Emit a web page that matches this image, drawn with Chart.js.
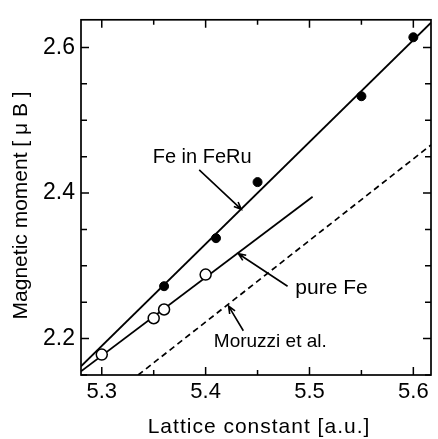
<!DOCTYPE html>
<html><head><meta charset="utf-8">
<script src="https://cdn.jsdelivr.net/npm/chart.js@4/dist/chart.umd.min.js"></script>
<style>html,body{margin:0;padding:0;background:#fff;overflow:hidden}canvas{display:block}</style>
</head><body>
<canvas id="c" width="438" height="439"></canvas>
<script>
// ---- data ----
const feRuX = [5.36, 5.41, 5.45, 5.55, 5.60];
const feRuY = [2.272, 2.338, 2.415, 2.533, 2.614];
const pureFeX = [5.30, 5.35, 5.36, 5.40];
const pureFeY = [2.178, 2.228, 2.240, 2.288];
const feRuFitX = [5.28, 5.617];
const feRuFitY = [2.162, 2.634];
const pureFeFitX = [5.28, 5.503];
const pureFeFitY = [2.155, 2.395];
const moruzziX = [5.335, 5.617];
const moruzziY = [2.15, 2.466];
const xTickLabels = ['5.3', '5.4', '5.5', '5.6'];
const yTickLabels = ['2.2', '2.4', '2.6'];
const xTitle = 'Lattice constant [a.u.]';
const yTitle = 'Magnetic moment [ \u03bc B ]';
const labelTexts = ['Fe in FeRu', 'pure Fe', 'Moruzzi et al.'];

const pts = (xs, ys) => xs.map((x, i) => ({x, y: ys[i]}));
const isLabel = (list, v) => list.some(l => Math.abs(parseFloat(l) - v) < 1e-6);

// annotation anchors (data coordinates)
const notes = [
  {text: labelTexts[0], x: 5.349, y: 2.441, size: 20, tail: [5.3938, 2.4319], head: [5.4344, 2.3776]},
  {text: labelTexts[1], x: 5.4864, y: 2.261, size: 21, tail: [5.4789, 2.2719], head: [5.4315, 2.3166]},
  {text: labelTexts[2], x: 5.4079, y: 2.1878, size: 19, tail: [5.4363, 2.2108], head: [5.4221, 2.2447]}
];

const FONT = '"Liberation Sans", Arial, Helvetica, sans-serif';

const framePlugin = {
  id: 'frame',
  afterDraw(chart) {
    const {ctx, chartArea: {left, right, top, bottom}, scales: {x, y}} = chart;
    ctx.save();
    ctx.strokeStyle = '#000';
    ctx.lineWidth = 1.7;
    ctx.strokeRect(left, top, right - left, bottom - top);
    ctx.lineWidth = 1.5;
    ctx.beginPath();
    x.ticks.forEach(t => {
      const px = x.getPixelForValue(t.value);
      const len = isLabel(xTickLabels, t.value) ? 8 : 5;
      ctx.moveTo(px, bottom); ctx.lineTo(px, bottom - len);
      ctx.moveTo(px, top); ctx.lineTo(px, top + len);
    });
    y.ticks.forEach(t => {
      const py = y.getPixelForValue(t.value);
      const len = isLabel(yTickLabels, t.value) ? 8 : 6;
      ctx.moveTo(left, py); ctx.lineTo(left + len, py);
      ctx.moveTo(right, py); ctx.lineTo(right - len, py);
    });
    ctx.stroke();

    // annotations
    ctx.fillStyle = '#000';
    ctx.textAlign = 'left';
    ctx.textBaseline = 'alphabetic';
    notes.forEach(n => {
      ctx.font = n.size + 'px ' + FONT;
      ctx.fillText(n.text, x.getPixelForValue(n.x), y.getPixelForValue(n.y));
      const x0 = x.getPixelForValue(n.tail[0]), y0 = y.getPixelForValue(n.tail[1]);
      const x1 = x.getPixelForValue(n.head[0]), y1 = y.getPixelForValue(n.head[1]);
      ctx.lineWidth = 1.6;
      ctx.beginPath();
      ctx.moveTo(x0, y0); ctx.lineTo(x1, y1);
      const a = Math.atan2(y1 - y0, x1 - x0), L = 8, w = 0.4;
      ctx.moveTo(x1 - L * Math.cos(a - w), y1 - L * Math.sin(a - w));
      ctx.lineTo(x1, y1);
      ctx.lineTo(x1 - L * Math.cos(a + w), y1 - L * Math.sin(a + w));
      ctx.stroke();
    });

    // axis titles
    ctx.font = '21px ' + FONT;
    ctx.textAlign = 'center';
    ctx.letterSpacing = '1px';
    ctx.fillText(xTitle, (left + right) / 2 + 3, 433);
    ctx.letterSpacing = '0px';
    ctx.save();
    ctx.translate(27, (top + bottom) / 2 + 8);
    ctx.rotate(-Math.PI / 2);
    ctx.fillText(yTitle, 0, 0);
    ctx.restore();
    ctx.restore();
  }
};

new Chart(document.getElementById('c'), {
  type: 'scatter',
  data: {
    datasets: [
      {label: 'Fe in FeRu', data: pts(feRuX, feRuY), pointRadius: 4.5, pointBackgroundColor: '#000', pointBorderColor: '#000', showLine: false},
      {label: 'pure Fe', data: pts(pureFeX, pureFeY), pointRadius: 5.5, pointBackgroundColor: '#fff', pointBorderColor: '#000', pointBorderWidth: 1.5, showLine: false},
      {label: 'Fe in FeRu fit', data: pts(feRuFitX, feRuFitY), showLine: true, pointRadius: 0, borderColor: '#000', borderWidth: 1.8},
      {label: 'pure Fe fit', data: pts(pureFeFitX, pureFeFitY), showLine: true, pointRadius: 0, borderColor: '#000', borderWidth: 1.8},
      {label: 'Moruzzi et al.', data: pts(moruzziX, moruzziY), showLine: true, pointRadius: 0, borderColor: '#000', borderWidth: 1.7, borderDash: [6, 4]}
    ]
  },
  options: {
    responsive: false,
    animation: false,
    events: [],
    layout: {padding: {top: 15, right: 0, left: 0, bottom: 0}},
    plugins: {legend: {display: false}, tooltip: {enabled: false}},
    scales: {
      x: {
        type: 'linear', min: 5.28, max: 5.617,
        afterFit(s) { s.height = 64; },
        grid: {display: false, drawTicks: false}, border: {display: false},
        ticks: {
          stepSize: 0.05, includeBounds: false, autoSkip: false, maxRotation: 0, padding: 4,
          color: '#000', font: {family: FONT, size: 22},
          callback: v => isLabel(xTickLabels, v) ? xTickLabels.find(l => Math.abs(parseFloat(l) - v) < 1e-6) : ''
        }
      },
      y: {
        type: 'linear', min: 2.15, max: 2.638,
        afterFit(s) { s.width = 81; },
        grid: {display: false, drawTicks: false}, border: {display: false},
        ticks: {
          stepSize: 0.05, includeBounds: false, autoSkip: false, padding: 6,
          color: '#000', font: {family: FONT, size: 23},
          callback: v => isLabel(yTickLabels, v) ? yTickLabels.find(l => Math.abs(parseFloat(l) - v) < 1e-6) : ''
        }
      }
    }
  },
  plugins: [framePlugin]
});
</script>
</body></html>
